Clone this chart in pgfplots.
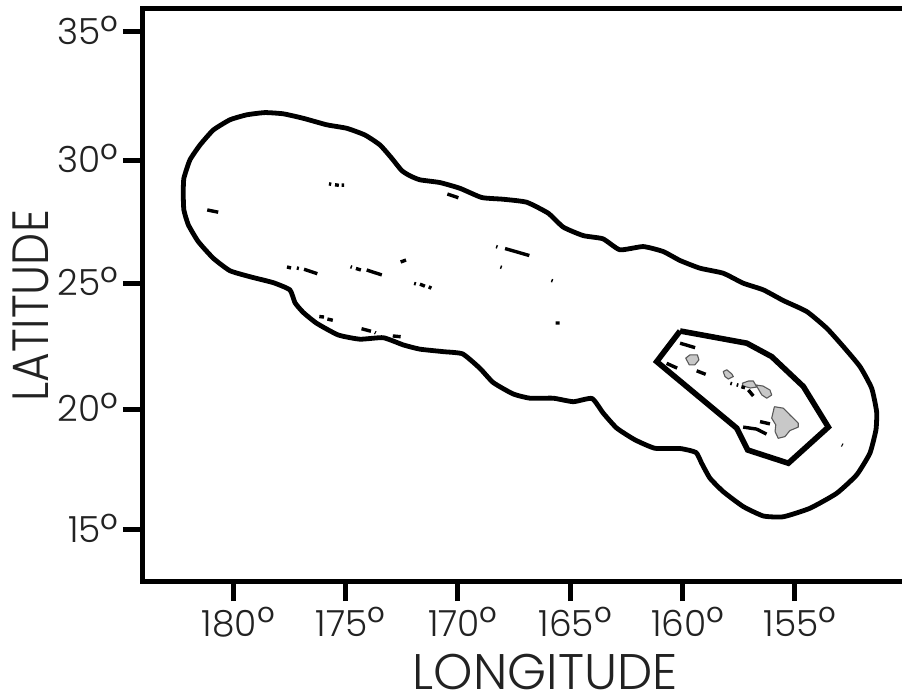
\documentclass[border=0pt]{standalone}
\usepackage{fontspec}
\setmainfont{Poppins Light}
\usepackage{pgfplots}
\pgfplotsset{compat=1.18}
\definecolor{txt}{HTML}{222222}
\definecolor{isl}{HTML}{C8C8C8}
\newcommand\dg{\raisebox{-0.08em}{\scalebox{1.25}{°}}}
\begin{document}
\begin{tikzpicture}
\useasboundingbox (0,0) rectangle (902pt,696pt);
\begin{axis}[
  at={(143pt,115pt)}, anchor=south west,
  scale only axis, width=759pt, height=572pt,
  x dir=reverse, clip=false,
  xmin=150.23, xmax=184.02, ymin=12.95, ymax=35.92,
  axis x line=bottom, axis y line=left,
  axis line style={-, line width=5pt, line cap=rect},
  xtick={180,175,170,165,160,155},
  xticklabels={180\dg,175\dg,170\dg,165\dg,160\dg,155\dg},
  ytick={15,19.85,24.91,29.85,35},
  yticklabels={15\dg,20\dg,25\dg,30\dg,35\dg},
  tick align=outside, major tick length=20pt,
  tick style={black, line width=5pt},
  minor tick num=0,
  xticklabel style={font=\fontsize{36}{40}\selectfont, text=txt, yshift=-3pt, xshift=5pt},
  yticklabel style={font=\fontsize{36}{40}\selectfont, text=txt, xshift=-1pt},
  xlabel={LONGITUDE}, ylabel={\scalebox{1}[1.12]{LATITUDE}},
  xlabel style={at={(axis description cs:0.53,-0.159)}, anchor=center, font=\fontsize{50}{52}\selectfont, text=txt},
  ylabel style={at={(axis description cs:-0.148,0.481)}, anchor=center, font=\fontsize{45.5}{50}\selectfont, text=txt},
  unbounded coords=jump,
  every axis plot/.append style={black, mark=none, line join=round},
]
\draw[line width=5pt, line cap=rect] (rel axis cs:0,1) -- (rel axis cs:1,1);

% outer boundary
\addplot[line width=4.8pt, smooth, tension=0.3] coordinates {
(182.23,28.52)(182.20,29.12)(181.93,29.86)(181.48,30.46)(180.89,31.06)(180.15,31.47)(179.40,31.67)(178.59,31.76)
(177.77,31.71)(176.88,31.53)(175.84,31.27)(174.95,31.13)(174.14,30.86)(173.47,30.46)(172.95,29.93)(172.50,29.43)
(172.13,29.22)(171.69,29.06)(170.80,28.95)(169.91,28.72)(168.94,28.35)(167.98,28.28)(166.94,28.16)(165.98,27.72)
(165.31,27.16)(164.42,26.82)(163.54,26.69)(162.79,26.25)(161.75,26.38)(160.86,26.18)(160.11,25.82)(159.22,25.51)
(158.19,25.31)(157.30,24.91)(156.40,24.64)(155.51,24.21)(154.47,23.77)(153.58,23.10)(152.84,22.36)(152.10,21.56)
(151.58,20.69)(151.36,19.75)(151.39,19.02)(151.66,18.08)(152.25,17.21)(153.14,16.47)(154.33,15.87)(155.51,15.53)
(156.40,15.56)(157.30,15.94)(158.19,16.54)(158.78,17.08)(159.15,17.68)(159.40,18.11)(160.11,18.27)(161.23,18.28)
(162.12,18.62)(162.93,19.09)(163.53,19.69)(164.03,20.28)(164.86,20.15)(165.75,20.29)(166.79,20.29)(167.54,20.46)
(168.43,20.92)(169.02,21.49)(169.79,22.07)(170.65,22.16)(171.69,22.26)(172.43,22.43)(173.32,22.72)(174.36,22.66)
(175.33,22.83)(176.29,23.30)(176.88,23.73)(177.25,24.12)(177.48,24.64)(178.22,24.93)(179.26,25.17)(180.15,25.41)
(180.89,25.91)(181.56,26.58)(182.00,27.25)(182.20,27.85)(182.23,28.52)
};

% inner boundary
\addplot[line width=5.6pt, line join=miter] coordinates {
(160.11,22.99)(157.14,22.50)(156.03,21.96)(154.62,20.76)(153.51,19.13)(155.29,17.68)(157.10,18.21)(157.59,19.09)(161.15,21.76)(160.11,22.99)
};

% islands
\addplot[fill=isl, draw=black!65, line width=1.1pt] coordinates {
(159.86,21.90)(159.67,22.03)(159.34,22.03)(159.27,21.83)(159.45,21.63)(159.70,21.63)(159.86,21.90)};
\addplot[fill=isl, draw=black!65, line width=1.1pt] coordinates {
(158.19,21.36)(158.03,21.43)(157.81,21.27)(157.74,21.16)(157.96,21.06)(158.11,21.16)(158.19,21.36)};
\addplot[fill=isl, draw=black!65, line width=1.1pt] coordinates {
(157.34,20.89)(157.07,20.98)(156.85,20.98)(156.69,20.74)(156.98,20.70)(157.31,20.78)(157.34,20.89)};
\addplot[fill=isl, draw=black!65, line width=1.1pt] coordinates {
(156.73,20.82)(156.42,20.78)(156.11,20.62)(156.03,20.42)(156.25,20.29)(156.47,20.42)(156.73,20.82)};
\addplot[fill=isl, draw=black!65, line width=1.1pt] coordinates {
(155.91,19.95)(155.51,19.89)(155.22,19.62)(154.85,19.29)(154.85,19.13)(155.22,18.99)(155.44,18.75)(155.74,18.68)(155.88,18.95)(155.85,19.22)(156.03,19.49)(155.91,19.95)};

% banks and shoals (short segments)
\addplot[line width=3.4pt] coordinates {
(181.16,27.85)(180.67,27.76) (nan,nan)
(175.74,28.90)(175.64,28.88) (nan,nan)
(175.47,28.86)(175.30,28.84) (nan,nan)
(175.18,28.85)(175.07,28.85) (nan,nan)
(177.61,25.56)(177.43,25.52) (nan,nan)
(177.17,25.52)(177.08,25.50) (nan,nan)
(176.85,25.47)(176.26,25.29) (nan,nan)
(174.78,25.57)(174.72,25.55) (nan,nan)
(174.54,25.50)(174.32,25.44) (nan,nan)
(174.06,25.44)(173.39,25.24) (nan,nan)
(172.55,25.76)(172.31,25.84) (nan,nan)
(171.95,24.90)(171.87,24.88) (nan,nan)
(171.69,24.87)(171.47,24.79) (nan,nan)
(171.30,24.76)(171.18,24.71) (nan,nan)
(176.17,23.57)(175.96,23.55) (nan,nan)
(175.81,23.47)(175.57,23.42) (nan,nan)
(174.29,23.08)(173.87,22.98) (nan,nan)
(173.70,22.93)(173.66,22.91) (nan,nan)
(172.90,22.79)(172.55,22.76) (nan,nan)
(170.47,28.49)(169.98,28.34) (nan,nan)
(168.30,26.38)(168.24,26.36) (nan,nan)
(167.90,26.30)(166.82,26.02) (nan,nan)
(168.11,25.56)(168.05,25.54) (nan,nan)
(165.84,25.02)(165.78,25.00) (nan,nan)
(165.65,23.31)(165.47,23.31) (nan,nan)
(160.11,22.50)(159.44,22.32) (nan,nan)
(160.71,21.69)(160.24,21.50) (nan,nan)
(159.37,21.39)(158.97,21.25) (nan,nan)
(157.87,20.89)(157.80,20.87) (nan,nan)
(157.59,20.83)(157.52,20.81) (nan,nan)
(157.38,20.75)(157.22,20.71) (nan,nan)
(156.55,19.35)(156.11,19.26) (nan,nan)
(157.30,19.13)(156.70,19.05) (nan,nan)
(156.70,19.05)(156.26,18.85) (nan,nan)
(157.07,20.62)(156.85,20.38) (nan,nan)
(152.91,18.42)(152.87,18.40)
};
\end{axis}
\end{tikzpicture}
\end{document}
